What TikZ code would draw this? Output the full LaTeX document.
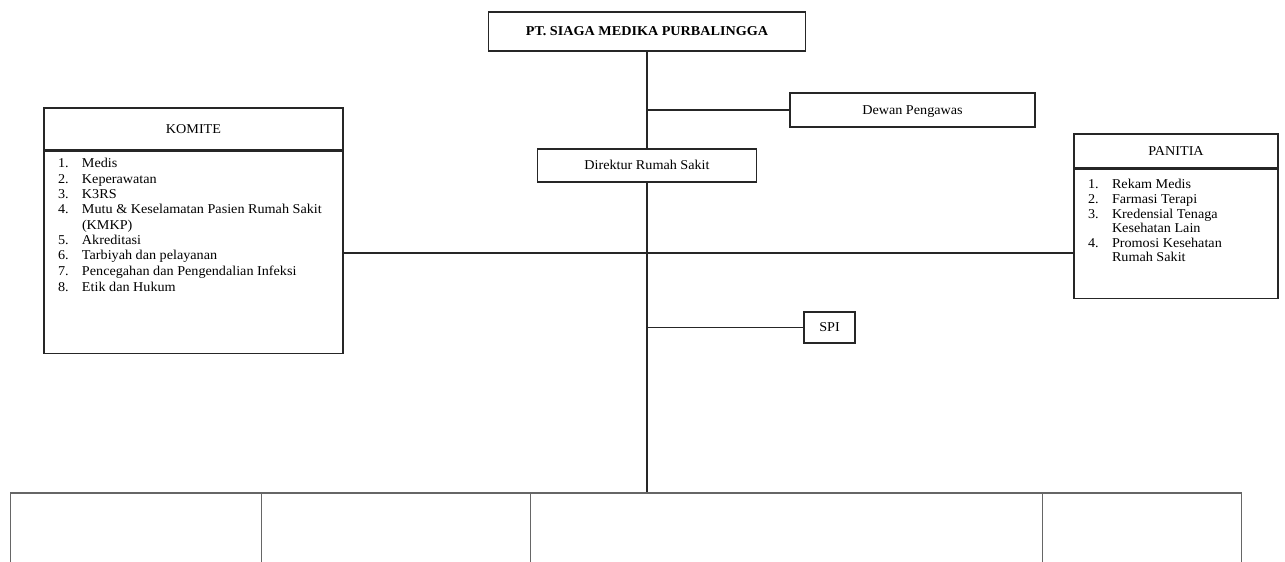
\documentclass[tikz,border=0pt]{standalone}
\usepackage{fontspec}
\setmainfont[FakeStretch=1.05]{Liberation Serif}
\usetikzlibrary{positioning}
\newcommand{\li}[2]{\makebox[24pt][l]{#1}#2\par}
\newcommand{\lc}[1]{\hspace*{24pt}#1\par}

\begin{document}
\begin{tikzpicture}[x=1pt,y=-1pt,font=\fontsize{13.5}{15.3}\selectfont,
    box/.style={draw=black!85,line width=1.1pt,inner sep=0pt,align=center,text=black},
    tbox/.style={box,text height=9.5pt,text depth=1pt},
    unit/.style={draw=black!60,line width=1pt,anchor=north west,minimum height=120pt},
    link/.style={draw=black!85,line width=1.1pt}]
  \useasboundingbox (0,0) rectangle (1285,562);
  \clip (0,0) rectangle (1285,562);
  \node[tbox,minimum width=317pt,minimum height=39pt] (PT) at (647,31.5) {\bfseries PT. SIAGA MEDIKA PURBALINGGA};
  \node[tbox,minimum width=245pt,minimum height=34pt] (D) at (912.5,110) {Dewan Pengawas};
  \node[tbox,minimum width=219pt,minimum height=33pt] (R) at (647,165.5) {Direktur Rumah Sakit};
  \node[tbox,minimum width=51pt,minimum height=31pt] (S) at (829.5,327.5) {SPI};
  \node[tbox,minimum width=299pt,minimum height=42pt] (K) at (193.5,129) {KOMITE};
  \node[box,below=0pt of K] (KL) {\parbox[t][202pt][t]{299pt}{\leftskip=14pt\vspace*{7.5pt}
      \li{1.}{Medis}
      \li{2.}{Keperawatan}
      \li{3.}{K3RS}
      \li{4.}{Mutu \& Keselamatan Pasien Rumah Sakit}
      \lc{(KMKP)}
      \li{5.}{Akreditasi}
      \li{6.}{Tarbiyah dan pelayanan}
      \li{7.}{Pencegahan dan Pengendalian Infeksi}
      \vspace{1.5pt}
      \li{8.}{Etik dan Hukum}}};
  \node[tbox,minimum width=204pt,minimum height=34pt] (P) at (1176,151) {PANITIA};
  \node[box,below=0pt of P] (PL) {\parbox[t][129pt][t]{204pt}{\fontsize{13.5}{14.6}\selectfont\leftskip=14pt\vspace*{10.5pt}
      \li{1.}{Rekam Medis}
      \li{2.}{Farmasi Terapi}
      \li{3.}{Kredensial Tenaga}
      \lc{Kesehatan Lain}
      \li{4.}{Promosi Kesehatan}
      \lc{Rumah Sakit}}};
  \coordinate (H) at (647,253);
  \node[unit,minimum width=251pt] (U1) at (10,493) {};
  \node[unit,minimum width=269pt] (U2) at (261,493) {};
  \node[unit,minimum width=512pt] (U3) at (530,493) {};
  \node[unit,minimum width=199pt] (U4) at (1042,493) {};
  \draw[link] (PT.south) -- (R.north);
  \draw[link] (R.south) -- (R.south |- U3.north);
  \draw[link] (D.west) -- (D.west -| PT.south);
  \draw[link] (S.west) -- (S.west -| R.south);
  \draw[link] (KL.east |- H) -- (PL.west |- H);
  \draw[line width=2.6pt,black!60] (U1.north west) -- (U4.north east);
\end{tikzpicture}
\end{document}
